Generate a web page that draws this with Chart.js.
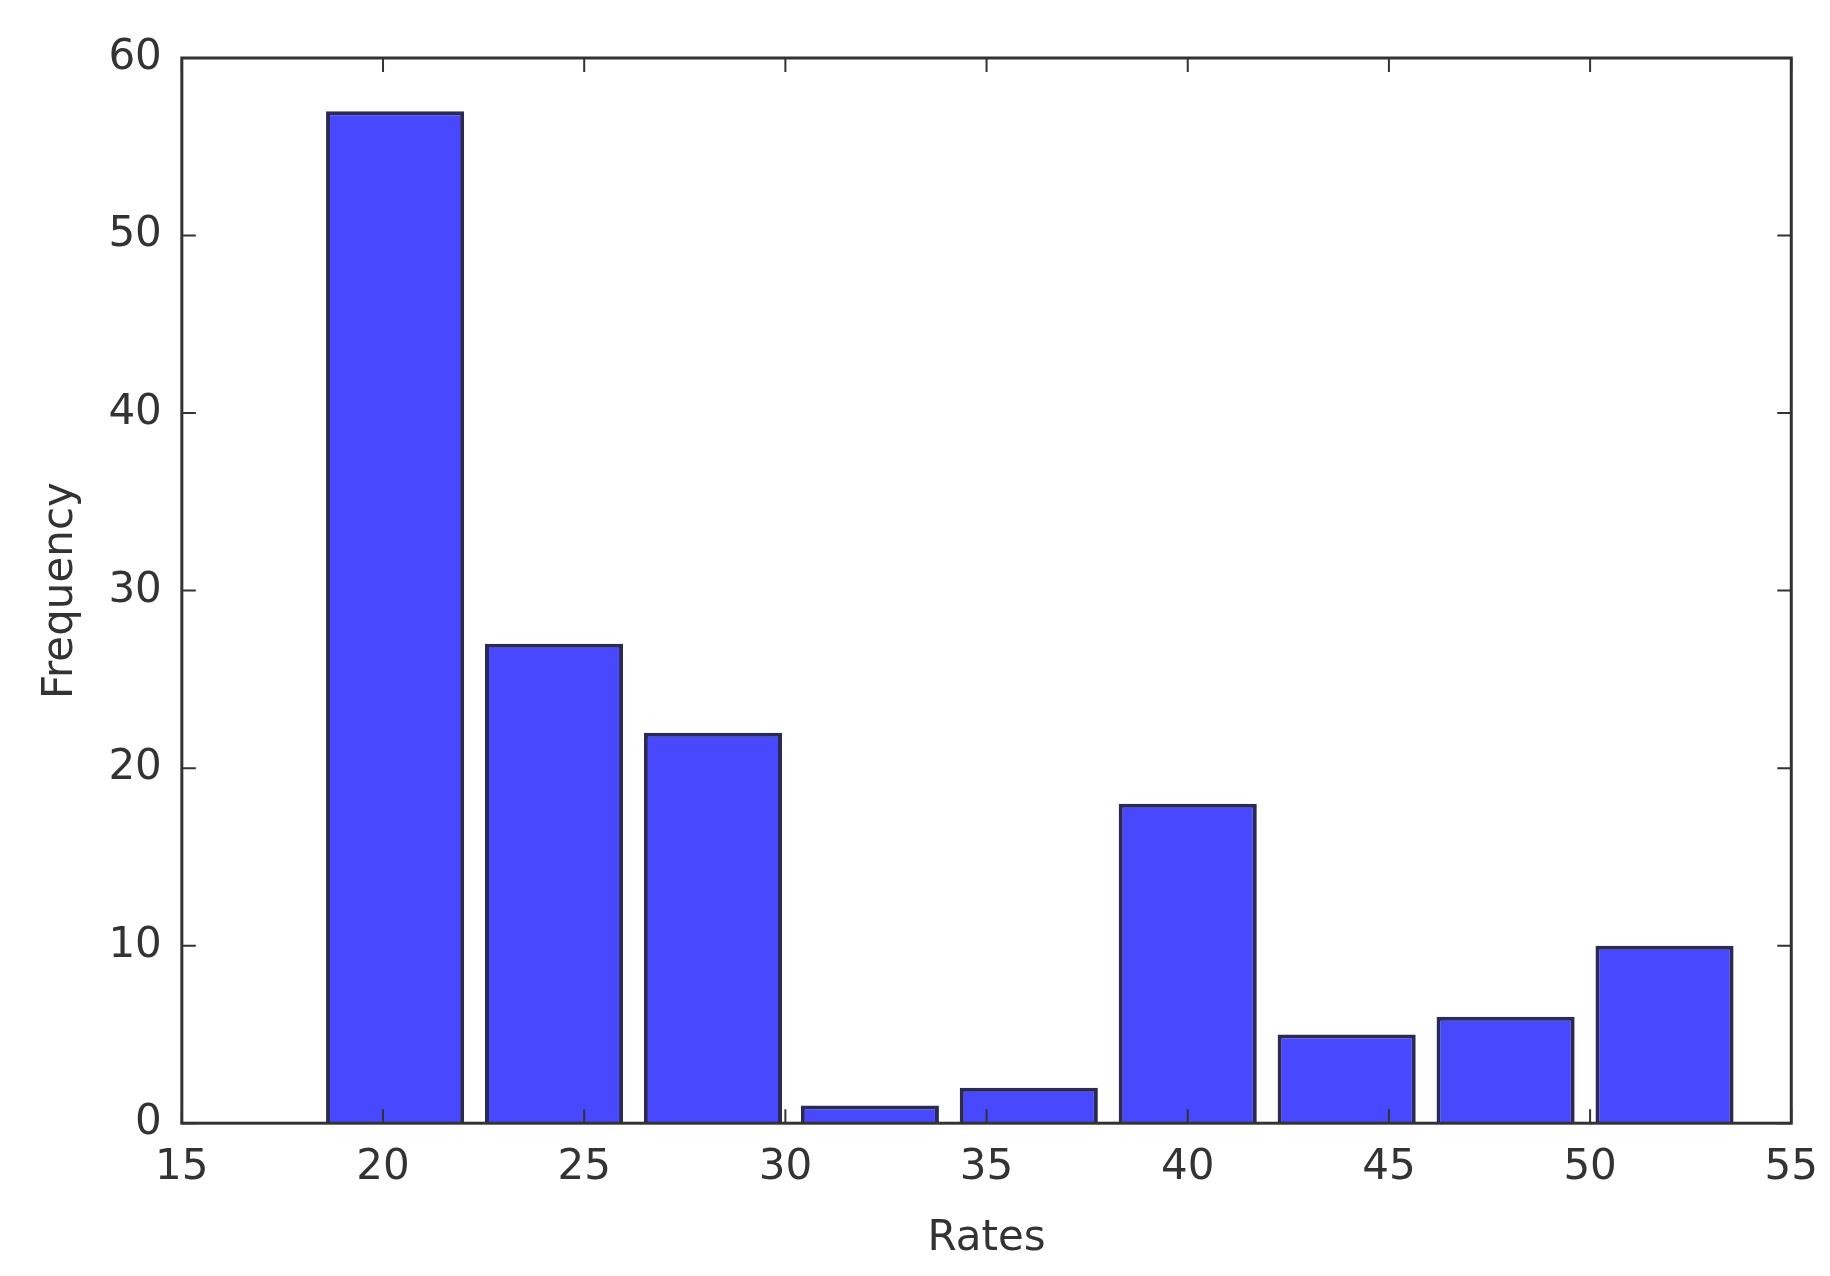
<!DOCTYPE html>
<html>
<head>
<meta charset="utf-8">
<script src="https://cdn.jsdelivr.net/npm/chart.js@4"></script>
<style>
  body { margin: 0; background: #fff; }
  #wrap { width: 1830px; height: 1276px; }
</style>
</head>
<body>
<div id="wrap"><canvas id="hist"></canvas></div>
<script>
// histogram bin centres and counts
const binCenters = [20.3, 24.25, 28.2, 32.1, 36.05, 40.0, 43.95, 47.9, 51.85];
const counts = [57, 27, 22, 1, 2, 18, 5, 6, 10];
const xTicks = [15, 20, 25, 30, 35, 40, 45, 50, 55];
const yTicks = [0, 10, 20, 30, 40, 50, 60];

const points = binCenters.map((c, i) => ({ x: c, y: counts[i] }));

// frame + inward ticks, matplotlib style
const frame = {
  id: 'frame',
  afterDatasetsDraw(chart) {
    const { ctx, chartArea: a, scales } = chart;
    ctx.save();
    ctx.strokeStyle = '#333';
    ctx.lineWidth = 3;
    ctx.strokeRect(a.left, a.top, a.right - a.left, a.bottom - a.top);
    ctx.lineWidth = 2;
    xTicks.forEach(v => {
      const px = scales.x.getPixelForValue(v);
      ctx.beginPath();
      ctx.moveTo(px, a.bottom); ctx.lineTo(px, a.bottom - 14);
      ctx.moveTo(px, a.top); ctx.lineTo(px, a.top + 14);
      ctx.stroke();
    });
    yTicks.forEach(v => {
      const py = scales.y.getPixelForValue(v);
      ctx.beginPath();
      ctx.moveTo(a.left, py); ctx.lineTo(a.left + 14, py);
      ctx.moveTo(a.right, py); ctx.lineTo(a.right - 14, py);
      ctx.stroke();
    });
    ctx.restore();
  }
};

new Chart(document.getElementById('hist'), {
  type: 'bar',
  data: {
    datasets: [{
      data: points,
      backgroundColor: 'rgba(40,40,255,0.85)',
      borderColor: '#2a2a55',
      borderWidth: 4,
      barPercentage: 0.88,
      categoryPercentage: 1
    }]
  },
  options: {
    responsive: true,
    maintainAspectRatio: false,
    animation: false,
    layout: { padding: { top: 58, right: 30, left: 32, bottom: 8 } },
    plugins: { legend: { display: false }, tooltip: { enabled: false } },
    scales: {
      x: {
        type: 'linear', min: 15, max: 55, offset: false,
        grid: { display: false },
        border: { display: false },
        afterBuildTicks: s => { s.ticks = xTicks.map(v => ({ value: v })); },
        ticks: { color: '#333', font: { family: 'DejaVu Sans', size: 42 }, padding: 12, maxRotation: 0 },
        title: { display: true, text: 'Rates', color: '#333', font: { family: 'DejaVu Sans', size: 42 }, padding: { top: 8 } }
      },
      y: {
        min: 0, max: 60,
        grid: { display: false },
        border: { display: false },
        afterBuildTicks: s => { s.ticks = yTicks.map(v => ({ value: v })); },
        ticks: { color: '#333', font: { family: 'DejaVu Sans', size: 42 }, padding: 12 },
        title: { display: true, text: 'Frequency', color: '#333', font: { family: 'DejaVu Sans', size: 42 }, padding: { bottom: 10 } }
      }
    }
  },
  plugins: [frame]
});
</script>
</body>
</html>
